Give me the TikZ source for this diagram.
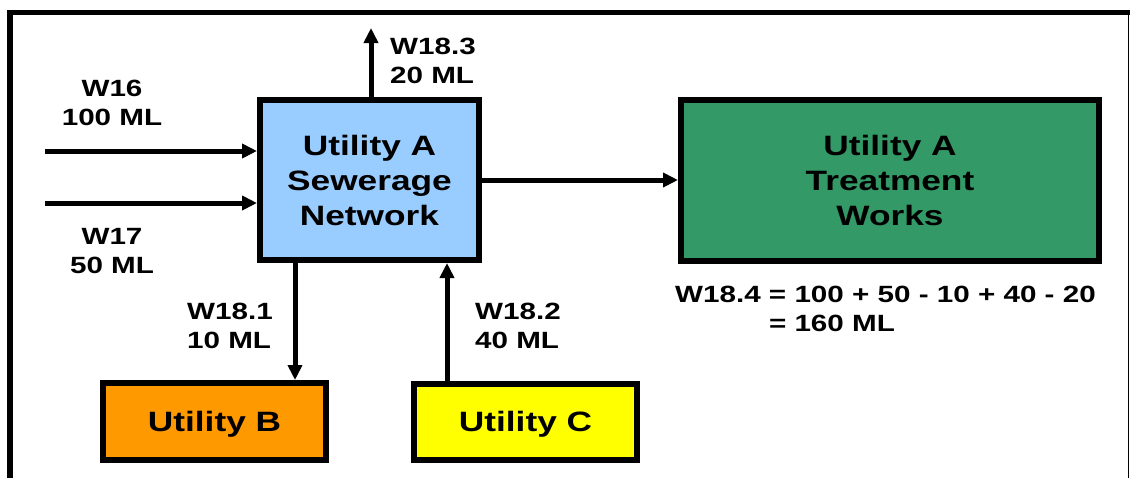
\documentclass[tikz,border=0pt]{standalone}
\usepackage{fontspec}
\setmainfont{Liberation Sans}[FakeStretch=1.26]
\usepackage{tikz}
\usetikzlibrary{arrows.meta,positioning}

\definecolor{netblue}{HTML}{99CCFF}
\definecolor{worksgreen}{HTML}{339966}
\definecolor{utilorange}{HTML}{FF9900}
\definecolor{utilyellow}{HTML}{FFFF00}
\newcommand{\diagboxfont}{\bfseries\fontsize{28}{35}\selectfont}
\newcommand{\diaglblfont}{\bfseries\fontsize{23.5}{29}\selectfont}

\begin{document}
\begin{tikzpicture}[
    x=1pt, y=-1pt, >={Triangle[length=15pt,width=14pt]},
    box/.style={rectangle, draw, line width=6pt, align=center,
                text depth=0pt, font=\diagboxfont},
    lbl/.style={inner sep=0pt, align=center, font=\diaglblfont},
    arr/.style={->, line width=5pt}
]
\useasboundingbox (0,0) rectangle (1130,477);

% Outer frame (bottom edge runs off the page)
\draw[line width=5.5pt] (10,490) -- (10,12.5) -- (1135,12.5);
\draw[line width=1.5pt] (1128.5,12.5) -- (1128.5,490);

% Boxes
\node[box, fill=netblue, minimum width=219pt, minimum height=160pt] (net) at (369.5,180) {Utility A\\Sewerage\\Network};
\node[box, fill=worksgreen, minimum width=418pt, minimum height=161pt, right=196pt of net] (works) {Utility A\\Treatment\\Works};
\node[box, fill=utilorange, minimum width=223pt, minimum height=77pt] (utilB) at (214.5,421.5) {Utility B};
\node[box, fill=utilyellow, minimum width=223pt, minimum height=76pt, right=82pt of utilB] (utilC) {Utility C};

% Inflows
\coordinate (w16in) at (45,151);
\coordinate (w17in) at (45,203);
\draw[arr] (w16in) -- (w16in -| net.west);
\draw[arr] (w17in) -- (w17in -| net.west);
\node[lbl] (w16) at (112,103) {W16\\100 ML};
\node[lbl] (w17) at (112,251) {W17\\50 ML};

% Outflow at the top
\coordinate (w183out) at (371,28);
\draw[arr] (w183out |- net.north) -- (w183out);
\node[lbl, anchor=west, align=left] (w183) at (390,60.5) {W18.3\\20 ML};

% Network to treatment works
\draw[arr] (net.east) -- (works.west);

% Transfers to and from the other utilities
\draw[arr] ([xshift=-74.5pt]net.south) -- ([xshift=-74.5pt]net.south |- utilB.north);
\draw[arr] ([xshift=-78.5pt]utilC.north) -- ([xshift=-78.5pt]utilC.north |- net.south);
\node[lbl, anchor=west, align=left] (w181) at (187,325.5) {W18.1\\10 ML};
\node[lbl, anchor=west, align=left] (w182) at (475,325.5) {W18.2\\40 ML};

% Balance
\node[lbl, anchor=north west, align=left] (w184) at (675,285.5) {W18.4 = 100 + 50 - 10 + 40 - 20\\\phantom{W18.4 }= 160 ML};
\end{tikzpicture}
\end{document}
